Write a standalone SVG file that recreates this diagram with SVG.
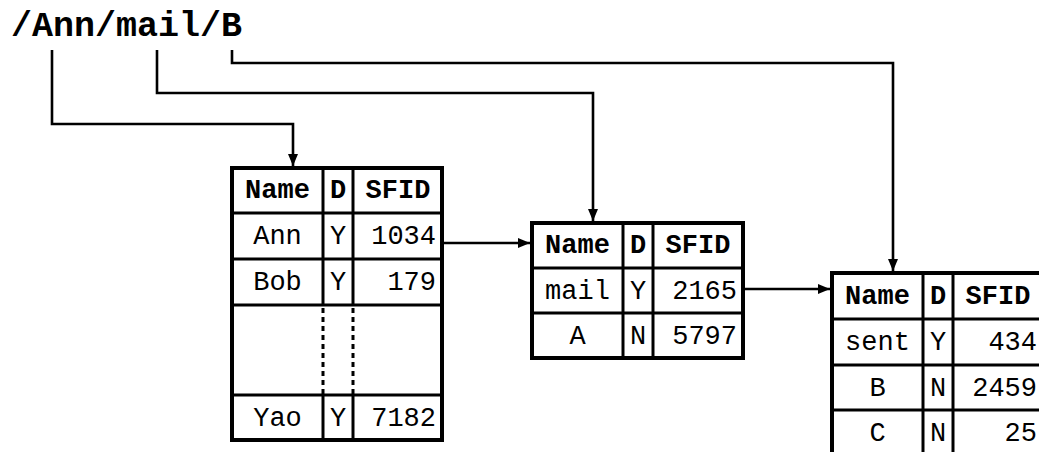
<svg xmlns="http://www.w3.org/2000/svg" width="1039" height="452" viewBox="0 0 1039 452">
<style>
.bg{fill:#fff}
.outer{fill:none;stroke:#000;stroke-width:4}
.inner{stroke:#000;stroke-width:3}
.dots{stroke:#000;stroke-width:3;stroke-dasharray:5 4}
.h{font-family:"Liberation Mono","Courier New",monospace;font-weight:bold;font-size:27px;fill:#000}
.v{font-family:"Liberation Mono","Courier New",monospace;font-size:27px;fill:#000}
.c{text-anchor:middle}
.r{text-anchor:end}
.title{font-family:"Liberation Mono","Courier New",monospace;font-weight:bold;font-size:35px;fill:#000}
.conn{fill:none;stroke:#000;stroke-width:2.6}
</style>
<defs>
<marker id="ah" markerUnits="userSpaceOnUse" markerWidth="12" markerHeight="12" viewBox="0 0 12 12" refX="12" refY="6" orient="auto">
<path d="M0,1 L12,6 L0,11 Z" fill="#000"/>
</marker>
</defs>
<rect class="bg" width="1039" height="452"/>
<g id="title"><text class="title" x="11" y="36">/Ann/mail/B</text></g>

<g id="connectors">
<path class="conn" d="M52,50 V124 H293 V166" marker-end="url(#ah)"/>
<path class="conn" d="M157,50 V93 H593 V221" marker-end="url(#ah)"/>
<path class="conn" d="M232,50 V63 H893 V271" marker-end="url(#ah)"/>
<path class="conn" d="M442,243 H530" marker-end="url(#ah)"/>
<path class="conn" d="M743,289 H830" marker-end="url(#ah)"/>
</g>

<g id="table1" transform="translate(232,168)">
<rect class="bg" x="0" y="0" width="210" height="272"/>
<line class="inner" x1="91" y1="0" x2="91" y2="137"/>
<line class="inner" x1="121" y1="0" x2="121" y2="137"/>
<line class="dots" x1="91" y1="140" x2="91" y2="227"/>
<line class="dots" x1="121" y1="140" x2="121" y2="227"/>
<line class="inner" x1="91" y1="227" x2="91" y2="272"/>
<line class="inner" x1="121" y1="227" x2="121" y2="272"/>
<line class="inner" x1="0" y1="45" x2="210" y2="45"/>
<line class="inner" x1="0" y1="91" x2="210" y2="91"/>
<line class="inner" x1="0" y1="137" x2="210" y2="137"/>
<line class="inner" x1="0" y1="227" x2="210" y2="227"/>
<rect class="outer" x="0" y="0" width="210" height="272"/>
<text class="h c" x="45.5" y="30">Name</text>
<text class="h c" x="106" y="30">D</text>
<text class="h c" x="166" y="30">SFID</text>
<text class="v c" x="45.5" y="76">Ann</text>
<text class="v c" x="106" y="76">Y</text>
<text class="v r" x="204" y="76">1034</text>
<text class="v c" x="45.5" y="122">Bob</text>
<text class="v c" x="106" y="122">Y</text>
<text class="v r" x="204" y="122">179</text>
<text class="v c" x="45.5" y="258">Yao</text>
<text class="v c" x="106" y="258">Y</text>
<text class="v r" x="204" y="258">7182</text>
</g>

<g id="table2" transform="translate(532,223)">
<rect class="bg" x="0" y="0" width="211" height="135"/>
<line class="inner" x1="91" y1="0" x2="91" y2="135"/>
<line class="inner" x1="121" y1="0" x2="121" y2="135"/>
<line class="inner" x1="0" y1="45" x2="211" y2="45"/>
<line class="inner" x1="0" y1="90" x2="211" y2="90"/>
<rect class="outer" x="0" y="0" width="211" height="135"/>
<text class="h c" x="45.5" y="30">Name</text>
<text class="h c" x="106" y="30">D</text>
<text class="h c" x="166" y="30">SFID</text>
<text class="v c" x="45.5" y="76">mail</text>
<text class="v c" x="106" y="76">Y</text>
<text class="v r" x="205" y="76">2165</text>
<text class="v c" x="45.5" y="121">A</text>
<text class="v c" x="106" y="121">N</text>
<text class="v r" x="205" y="121">5797</text>
</g>

<g id="table3" transform="translate(832,273)">
<rect class="bg" x="0" y="0" width="211" height="185"/>
<line class="inner" x1="91" y1="0" x2="91" y2="185"/>
<line class="inner" x1="121" y1="0" x2="121" y2="185"/>
<line class="inner" x1="0" y1="46" x2="211" y2="46"/>
<line class="inner" x1="0" y1="92" x2="211" y2="92"/>
<line class="inner" x1="0" y1="137" x2="211" y2="137"/>
<rect class="outer" x="0" y="0" width="211" height="185"/>
<text class="h c" x="45.5" y="31">Name</text>
<text class="h c" x="106" y="31">D</text>
<text class="h c" x="166" y="31">SFID</text>
<text class="v c" x="45.5" y="77">sent</text>
<text class="v c" x="106" y="77">Y</text>
<text class="v r" x="205" y="77">434</text>
<text class="v c" x="45.5" y="123">B</text>
<text class="v c" x="106" y="123">N</text>
<text class="v r" x="205" y="123">2459</text>
<text class="v c" x="45.5" y="168">C</text>
<text class="v c" x="106" y="168">N</text>
<text class="v r" x="205" y="168">25</text>
</g>
</svg>
